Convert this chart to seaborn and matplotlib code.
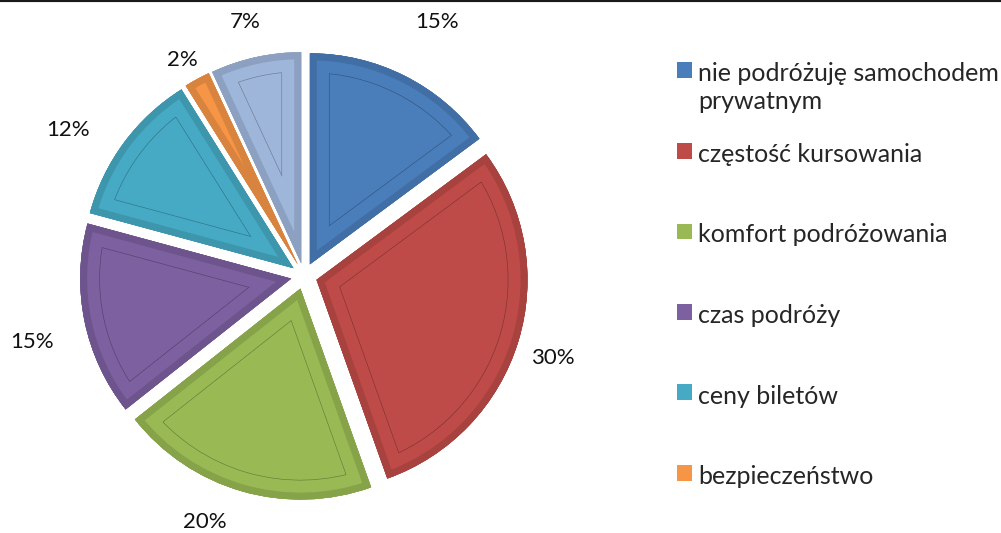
import matplotlib
matplotlib.use("Agg")
import matplotlib.pyplot as plt
import matplotlib.colors as mcolors
from matplotlib.patches import Wedge
import numpy as np
import seaborn as sns

# ---- data ----
categories = ["nie podróżuję samochodem\nprywatnym", "częstość kursowania",
              "komfort podróżowania", "czas podróży", "ceny biletów",
              "bezpieczeństwo", "inne"]
values = [15, 30, 20, 15, 12, 2, 7]
colors = ["#4A7EBB", "#BE4B48", "#98B954", "#7D60A0", "#46AAC5", "#F69546", "#9FB6DB"]
legend_count = 6

# label placement (style): radial distance and small angular shift per slice
label_dist = [1.359, 1.242, 1.256, 1.327, 1.315, 1.173, 1.236]
label_shift = [-0.9, -1.3, -5.9, 2.0, 4.8, 0.8, 0.6]

sns.set_theme(style="white")
plt.rcParams['font.family'] = ['Lato', 'DejaVu Sans']

W, H = 1001, 533
fig = plt.figure(figsize=(W / 100, H / 100), dpi=100)
ax = fig.add_axes([0, 0, 1, 1])

wedges, texts, autotexts = ax.pie(
    values, colors=colors, startangle=90, counterclock=False,
    explode=[0.062] * len(values), autopct='%.0f%%', pctdistance=1.23,
    radius=1.0, wedgeprops=dict(linewidth=0),
    textprops=dict(fontsize=16, color='#111111'))

for w, t, dist, sh in zip(wedges, autotexts, label_dist, label_shift):
    mid = np.deg2rad((w.theta1 + w.theta2) / 2 + sh)
    t.set_position((dist * np.cos(mid), dist * np.sin(mid)))

# bevel look: inner thin line + darker outer band, clipped to each wedge
for w, c in zip(wedges, colors):
    base = np.array(mcolors.to_rgb(c))
    line_c = base * 0.68
    band_c = base * 0.88
    for lw, col in [(28.4, line_c), (27.5, c), (10.0, band_c)]:
        p = Wedge(w.center, w.r, w.theta1, w.theta2, fill=False,
                  edgecolor=col, linewidth=lw, joinstyle='miter')
        ax.add_patch(p)
        p.set_clip_path(w)

scale = 211.0
cx, cy = 304.0, 276.0
ax.set_xlim(-cx / scale, (W - cx) / scale)
ax.set_ylim(-(H - cy) / scale, cy / scale)
ax.set_aspect('equal', adjustable='datalim')
ax.set_position([0, 0, 1, 1])

ax.set_frame_on(True)
for s in ['left', 'right', 'bottom']:
    ax.spines[s].set_visible(False)
ax.spines['top'].set_color('#1a1a1a')
ax.spines['top'].set_linewidth(3)

common = dict(frameon=False, fontsize=18, handlelength=0.58, handleheight=0.58,
              handletextpad=0.28, borderpad=0, borderaxespad=0, loc='upper left')

legA = fig.legend(handles=wedges[:1], labels=categories[:1],
                  bbox_to_anchor=(677 / W, 1 - 62 / H), **common)
legB = fig.legend(handles=wedges[1:legend_count], labels=categories[1:legend_count],
                  bbox_to_anchor=(677 / W, 1 - 143 / H), labelspacing=2.3, **common)
legA.texts[0].set_linespacing(1.25)
for leg in (legA, legB):
    for col in leg._legend_handle_box.get_children():
        for hp in col.get_children():
            hp.align = 'top'

fig.savefig("out.png", dpi=100)
